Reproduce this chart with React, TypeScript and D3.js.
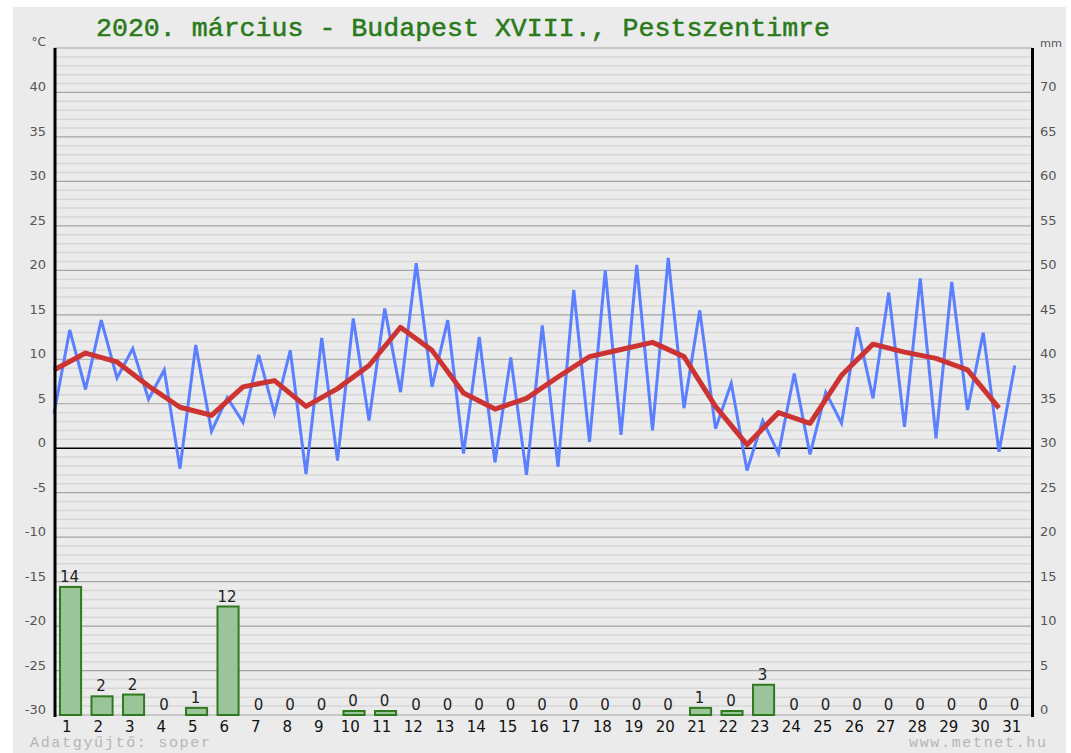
import React from "react";
import * as d3 from "d3";

const title = "2020. március - Budapest XVIII., Pestszentimre";
const days = [1, 2, 3, 4, 5, 6, 7, 8, 9, 10, 11, 12, 13, 14, 15, 16, 17, 18, 19, 20, 21, 22, 23, 24, 25, 26, 27, 28, 29, 30, 31];
const tMin = [3.9, 6.6, 7.9, 5.5, -2.3, 1.9, 2.9, 3.9, -2.9, -1.4, 3.1, 6.3, 6.9, -0.6, -1.6, -3.0, -2.1, 0.7, 1.5, 2.0, 4.5, 2.2, -2.5, -0.6, -0.7, 2.8, 5.6, 2.4, 1.1, 4.3, -0.4];
const tMax = [13.3, 14.4, 11.2, 8.8, 11.6, 5.7, 10.5, 11.0, 12.4, 14.6, 15.7, 20.8, 14.4, 12.5, 10.2, 13.8, 17.8, 20.0, 20.6, 21.4, 15.5, 7.3, 3.1, 8.4, 6.3, 13.6, 17.5, 19.1, 18.7, 13.0, 9.3];
const tAvg = [8.8, 10.7, 9.7, 7.0, 4.6, 3.7, 6.9, 7.6, 4.7, 6.7, 9.3, 13.6, 11.0, 6.2, 4.4, 5.6, 8.0, 10.3, 11.1, 11.9, 10.3, 4.7, 0.4, 4.0, 2.8, 8.2, 11.7, 10.8, 10.1, 8.8, 4.5];
const precip = [14.4, 2.1, 2.3, 0, 0.8, 12.2, 0, 0, 0, 0.45, 0.45, 0, 0, 0, 0, 0, 0, 0, 0, 0, 0.8, 0.45, 3.4, 0, 0, 0, 0, 0, 0, 0, 0];
const leftTicks = [-30, -25, -20, -15, -10, -5, 0, 5, 10, 15, 20, 25, 30, 35, 40];
const rightTicks = [0, 5, 10, 15, 20, 25, 30, 35, 40, 45, 50, 55, 60, 65, 70];

export default function App() {
  const W = 1071, H = 753;
  const x = d3.scaleLinear().domain([0, 31]).range([54, 1030.5]);
  const yT = d3.scaleLinear().domain([-30, 45]).range([715, 48]);
  const yP = d3.scaleLinear().domain([0, 75]).range([715, 48]);
  const step = x(1) - x(0);

  const bluePts: [number, number][] = [];
  days.forEach((d, i) => {
    bluePts.push([x(d - 1), yT(tMin[i])]);
    bluePts.push([x(d - 0.5), yT(tMax[i])]);
  });
  const redPts: [number, number][] = days.map((d, i) => [x(d - 1), yT(tAvg[i])]);
  const line = d3.line();

  const minor = d3.range(-30, 46, 1).filter((v) => v % 5 !== 0);
  const major = d3.range(-30, 46, 5);
  const mono = "'Liberation Mono', 'Courier New', monospace";
  const sans = "'DejaVu Sans', Verdana, sans-serif";

  return (
    <svg width={W} height={H} style={{ position: "absolute", left: 0, top: 0, background: "#fff" }}>
      <rect x={13} y={7} width={1053} height={746} fill="#ebebeb" />
      <text x={463} y={36} textAnchor="middle" fontFamily={mono} fontWeight="normal" fontSize={26} fill="#2a7a1a" stroke="#2a7a1a" strokeWidth={0.5} textLength={734} lengthAdjust="spacingAndGlyphs">
        {title}
      </text>
      {minor.map((v) => (
        <line key={"mi" + v} x1={x(0)} x2={1032} y1={yT(v)} y2={yT(v)} stroke="#d7d7d7" strokeWidth={1.5} />
      ))}
      {major.map((v) => (
        <line key={"ma" + v} x1={x(0)} x2={1032} y1={yT(v)} y2={yT(v)} stroke={v === 0 ? "#000" : "#a3a3a3"} strokeWidth={v === 0 ? 1.6 : 1.2} />
      ))}
      {precip.map((p, i) => {
        const d = days[i];
        const bx = x(d - 1) + step * 0.19;
        const bw = step * 0.67;
        const top = yP(p);
        return (
          <g key={"b" + d}>
            <rect x={bx} y={top} width={bw} height={yP(0) - top} fill="#9bc49b" stroke="#2f7a1f" strokeWidth={2} />
            <text x={bx + bw / 2 - 1} y={top - 5} textAnchor="middle" fontFamily={sans} fontSize={15} fill="#222">
              {d3.format(".0f")(p)}
            </text>
          </g>
        );
      })}
      <path d={line(bluePts) || ""} fill="none" stroke="#5a7fff" strokeWidth={3} strokeLinejoin="miter" />
      <path d={line(redPts) || ""} fill="none" stroke="#cc3333" strokeWidth={5} strokeLinejoin="round" />
      <line x1={55} x2={55} y1={48} y2={717} stroke="#000" strokeWidth={3} />
      <line x1={1032.5} x2={1032.5} y1={48} y2={717} stroke="#000" strokeWidth={3} />
      {leftTicks.map((v) => (
        <text key={"l" + v} x={46} y={yT(v) - 1} textAnchor="end" fontFamily={sans} fontSize={13} fill="#555">
          {v}
        </text>
      ))}
      {rightTicks.map((v) => (
        <text key={"r" + v} x={1040} y={yP(v) - 1} textAnchor="start" fontFamily={sans} fontSize={13} fill="#555">
          {v}
        </text>
      ))}
      <text x={46} y={46} textAnchor="end" fontFamily={sans} fontSize={12} fill="#555">°C</text>
      <text x={1040} y={47} textAnchor="start" fontFamily={sans} fontSize={10} fill="#555" textLength={22} lengthAdjust="spacingAndGlyphs">mm</text>
      {days.map((d) => (
        <text key={"d" + d} x={x(d - 0.5) - 3} y={732} textAnchor="middle" fontFamily={sans} fontSize={15} fill="#111">
          {d}
        </text>
      ))}
      <text x={30} y={747} fontFamily={mono} fontSize={15} fill="#b5b5b5" textLength={180} lengthAdjust="spacing">Adatgyűjtő: soper</text>
      <text x={1046} y={747} textAnchor="end" fontFamily={mono} fontSize={15} fill="#b5b5b5" textLength={137} lengthAdjust="spacing">www.metnet.hu</text>
    </svg>
  );
}
